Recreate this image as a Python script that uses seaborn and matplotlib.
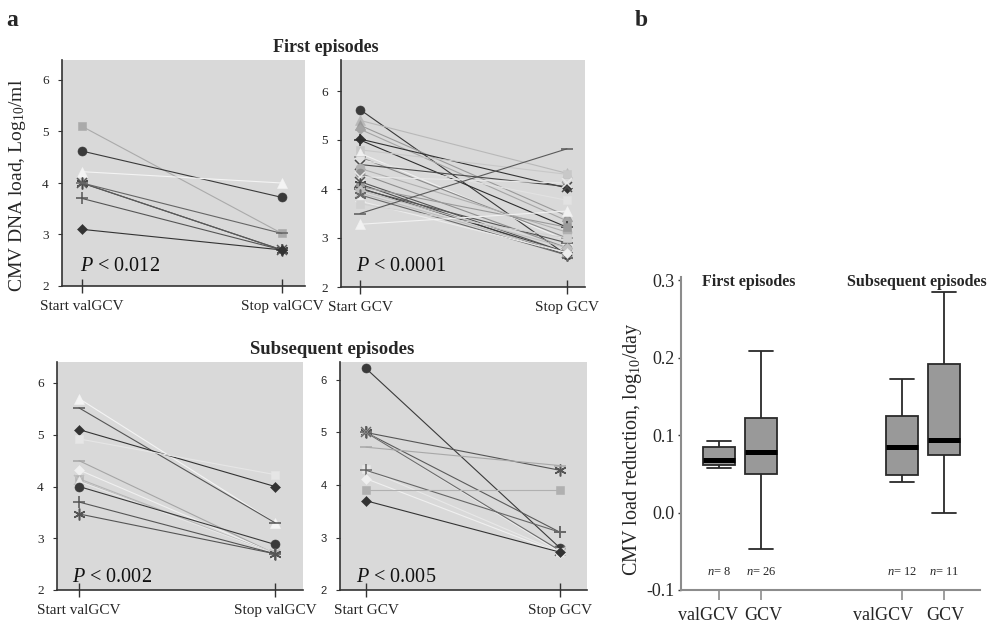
import matplotlib
matplotlib.use("Agg")
import matplotlib.pyplot as plt
import matplotlib.transforms as mtransforms
import numpy as np
import pandas as pd
import seaborn as sns

# ---------------- data ----------------
phase = [0, 1]

# a) first episodes, valganciclovir
fv_start = [5.10, 4.62, 4.22, 4.00, 4.00, 4.00, 3.70, 3.10]
fv_stop = [3.02, 3.72, 4.00, 2.70, 2.70, 3.02, 2.70, 2.70]
fv_marker = ["s", "o", "^", "ast", "x", "_", "+", "D"]
fv_color = ["#aaaaaa", "#3a3a3a", "#f4f4f4", "#4a4a4a", "#5a5a5a", "#666666", "#555555", "#333333"]

# a) first episodes, ganciclovir
fg_start = [5.62, 5.40, 5.30, 5.22, 5.02, 5.00, 4.80, 4.73, 4.65, 4.60, 4.50, 4.42, 4.32,
            4.25, 4.15, 4.10, 4.05, 4.02, 4.00, 3.97, 3.92, 3.88, 3.75, 3.70, 3.50, 3.28]
fg_stop = [2.65, 4.32, 3.45, 3.35, 4.02, 3.22, 4.30, 2.95, 3.00, 3.77, 4.05, 3.12, 2.80,
           4.12, 2.70, 2.65, 3.22, 2.70, 2.90, 2.80, 2.70, 2.65, 2.70, 3.00, 4.82, 3.55]
fg_marker = ["o", "^", "^", "D", "D", "+", "s", "^", "_", "s", "x", "o", "o",
             "x", "x", "ast", "s", "+", "_", "D", "x", "ast", "D", "s", "_", "^"]
fg_color = ["#3a3a3a", "#b8b8b8", "#9a9a9a", "#a5a5a5", "#333333", "#2e2e2e", "#c8c8c8",
            "#f0f0f0", "#8a8a8a", "#e2e2e2", "#4a4a4a", "#b0b0b0", "#8f8f8f", "#e8e8e8",
            "#555555", "#4d4d4d", "#9a9a9a", "#3a3a3a", "#555555", "#c0c0c0", "#bdbdbd",
            "#6a6a6a", "#ececec", "#d0d0d0", "#5a5a5a", "#f2f2f2"]

# a) subsequent episodes, valganciclovir
sv_start = [5.70, 5.52, 5.10, 4.92, 4.50, 4.32, 4.15, 4.12, 4.10, 4.00, 3.70, 3.47]
sv_stop = [3.30, 3.30, 4.00, 4.23, 2.70, 2.70, 2.70, 2.70, 2.70, 2.88, 2.70, 2.70]
sv_marker = ["^", "_", "D", "s", "_", "D", "s", "x", "^", "o", "+", "ast"]
sv_color = ["#f4f4f4", "#555555", "#333333", "#e6e6e6", "#a5a5a5", "#f0f0f0", "#b5b5b5",
            "#c0c0c0", "#e8e8e8", "#3a3a3a", "#555555", "#555555"]

# a) subsequent episodes, ganciclovir
sg_start = [6.22, 5.00, 5.00, 5.00, 5.00, 4.72, 4.30, 4.28, 4.12, 3.90, 3.70]
sg_stop = [2.80, 4.28, 3.10, 2.72, 2.75, 4.37, 2.72, 3.10, 2.70, 3.90, 2.72]
sg_marker = ["o", "ast", "+", "x", "x", "_", "s", "+", "D", "s", "D"]
sg_color = ["#3a3a3a", "#555555", "#5a5a5a", "#eeeeee", "#6a6a6a", "#a8a8a8", "#e8e8e8",
            "#666666", "#f0f0f0", "#b0b0b0", "#333333"]

p_values = ["0.012", "0.0001", "0.002", "0.005"]
val_ticks = ["Start valGCV", "Stop valGCV"]
gcv_ticks = ["Start GCV", "Stop GCV"]

# b) viral load reduction rate, five-number summaries
box_labels = ["valGCV", "GCV", "valGCV", "GCV"]
box_lo = [0.057, -0.047, 0.039, 0.000]
box_q1 = [0.061, 0.050, 0.048, 0.074]
box_med = [0.068, 0.078, 0.084, 0.094]
box_q3 = [0.085, 0.122, 0.124, 0.192]
box_hi = [0.092, 0.208, 0.172, 0.284]
box_n = [8, 26, 12, 11]

# ---------------- style ----------------
sns.set_theme(style="white")
plt.rcParams["font.family"] = ["Liberation Serif", "DejaVu Serif"]
plt.rcParams["mathtext.fontset"] = "custom"
plt.rcParams["mathtext.rm"] = "Liberation Serif"
plt.rcParams["mathtext.it"] = "Liberation Serif:italic"
plt.rcParams["mathtext.bf"] = "Liberation Serif:bold"

W, H = 996, 625
fig = plt.figure(figsize=(W / 100, H / 100), dpi=100)
fig.patch.set_facecolor("white")


def rect(left, top, right, bottom):
    return [left / W, 1 - bottom / H, (right - left) / W, (bottom - top) / H]


def ftext(x, y, s, **kw):
    return fig.text(x / W, 1 - y / H, s, **kw)


MARKERS = {"o": "o", "s": "s", "^": "^", "D": "D", "x": "x", "+": "+", "_": "_",
           "ast": (6, 2, 0)}
SIZES = {"o": 6.5, "s": 6.2, "^": 7.2, "D": 5.6, "x": 6.5, "+": 8, "_": 8, "ast": 8.5}
LINE_MARKERS = {"x", "+", "_", "ast"}


def line_panel(r, starts, stops, markers, colors, ytop, xlim, ticklabels, yfont):
    ax = fig.add_axes(r)
    ax.set_facecolor("#d9d9d9")
    for s, e, m, c in zip(starts, stops, markers, colors):
        sns.lineplot(x=phase, y=[s, e], ax=ax, color=c, linewidth=0.8,
                     marker=MARKERS[m], markersize=SIZES[m],
                     markerfacecolor=c, markeredgecolor=c,
                     markeredgewidth=1.1 if m in LINE_MARKERS else 0.4,
                     errorbar=None, legend=False)
    ax.set_xlim(*xlim)
    ax.set_ylim(2, ytop)
    ax.set_xticks(phase, ticklabels)
    ax.set_yticks([2, 3, 4, 5, 6], ["2", "3", "4", "5", "6"])
    ax.set_xlabel("")
    ax.set_ylabel("")
    for side in ("top", "right"):
        ax.spines[side].set_visible(False)
    for side in ("left", "bottom"):
        ax.spines[side].set_color("#333333")
        ax.spines[side].set_linewidth(1.2)
    ax.tick_params(axis="x", direction="inout", length=9.5, width=1.0, color="#333333",
                   pad=5, labelsize=11, bottom=True)
    ax.tick_params(axis="y", direction="out", length=3, width=0.8, color="#333333",
                   pad=6.5, left=True)
    for lab in ax.get_yticklabels():
        lab.set_fontfamily(yfont[0])
        lab.set_fontsize(yfont[1])
    return ax


serif_ticks = ("Liberation Serif", 9.5)
sans_ticks = ("Liberation Sans", 8)

line_panel(rect(62, 60, 305, 286), fv_start, fv_stop, fv_marker, fv_color,
           2 + 226 / 51.5, (-0.1, 1.115), val_ticks, serif_ticks)
line_panel(rect(341, 60, 585, 287), fg_start, fg_stop, fg_marker, fg_color,
           2 + 227 / 49.0, (-0.092, 1.087), gcv_ticks, serif_ticks)
line_panel(rect(57, 362, 303, 590), sv_start, sv_stop, sv_marker, sv_color,
           2 + 228 / 51.75, (-0.112, 1.143), val_ticks, serif_ticks)
line_panel(rect(340, 362, 587, 590), sg_start, sg_stop, sg_marker, sg_color,
           2 + 228 / 52.5, (-0.134, 1.139), gcv_ticks, sans_ticks)

for (x, y), p in zip([(80, 271), (356, 271), (72, 582), (356, 582)], p_values):
    ftext(x, y, r"$\mathit{P}$ < " + p, fontsize=14.5, va="baseline", ha="left",
          color="#111111")

ftext(12, 20, "a", fontsize=17, fontweight="bold", ha="center", va="center")
ftext(641, 20, "b", fontsize=17, fontweight="bold", ha="center", va="center")
ftext(326, 48, "First episodes", fontsize=13, fontweight="bold", ha="center", va="center")
ftext(332, 349, "Subsequent episodes", fontsize=13.5, fontweight="bold", ha="center",
      va="center")
ftext(18, 185, r"CMV DNA load, Log$_{10}$/ml", fontsize=14, rotation=90,
      ha="center", va="center")

# ---------------- panel b ----------------
positions = [1.0, 2.0, 5.36, 6.36]
rows = []
for pos, lo, q1, md, q3, hi in zip(positions, box_lo, box_q1, box_med, box_q3, box_hi):
    for v in (lo, q1, md, q3, hi):
        rows.append({"pos": pos, "rate": v})
box_df = pd.DataFrame(rows)

axb = fig.add_axes(rect(681, 277, 980, 590))
sns.boxplot(data=box_df, x="pos", y="rate", native_scale=True, whis=(0, 100),
            width=0.76, color="#999999", saturation=1, linecolor="#2a2a2a",
            linewidth=1.3, showfliers=False,
            medianprops={"color": "black", "linewidth": 3.6}, ax=axb)

# widen the whisker caps to about three quarters of the box width
for ln in axb.lines:
    xd = np.asarray(ln.get_xdata(), dtype=float)
    yd = np.asarray(ln.get_ydata(), dtype=float)
    if len(xd) == 2 and yd[0] == yd[1] and (xd[1] - xd[0]) < 0.5:
        mid = xd.mean()
        half = (xd[1] - xd[0]) * 0.75
        ln.set_xdata([mid - half, mid + half])

axb.set_xlim(1 - 38 / 42, 1 + 261 / 42)
axb.set_ylim(-0.1, 0.304)
axb.set_xticks(positions, box_labels)
axb.set_yticks([-0.1, 0.0, 0.1, 0.2, 0.3], ["-0.1", "0.0", "0.1", "0.2", "0.3"])
axb.set_xlabel("")
axb.set_ylabel("")
for side in ("top", "right"):
    axb.spines[side].set_visible(False)
for side in ("left", "bottom"):
    axb.spines[side].set_color("#8c8c8c")
    axb.spines[side].set_linewidth(1.5)
axb.tick_params(axis="x", direction="out", length=7.5, width=1.2, color="#8c8c8c",
                pad=4.5, labelsize=13, bottom=True)
axb.tick_params(axis="y", direction="out", length=2, width=1.0, color="#333333",
                pad=2.5, labelsize=13, left=True)

# nudge the paired drug labels apart so they read as "valGCV GCV"
label_shift_px = [-11, 2, -19, 1]
for lab, dx in zip(axb.get_xticklabels(), label_shift_px):
    lab.set_transform(lab.get_transform() +
                      mtransforms.ScaledTranslation(dx / 100, 0, fig.dpi_scale_trans))

for pos, n in zip(positions, box_n):
    axb.text(pos, -0.077, r"$\mathit{n}$= " + str(n), fontsize=9, ha="center",
             va="center")
axb.text(1.71, 0.297, "First episodes", fontsize=11.5, fontweight="bold",
         ha="center", va="center")
axb.text(5.71, 0.297, "Subsequent episodes", fontsize=11.5, fontweight="bold",
         ha="center", va="center")
ftext(632, 449, r"CMV load reduction, log$_{10}$/day", fontsize=14.5, rotation=90,
      ha="center", va="center")

fig.savefig("out.png", dpi=100)
